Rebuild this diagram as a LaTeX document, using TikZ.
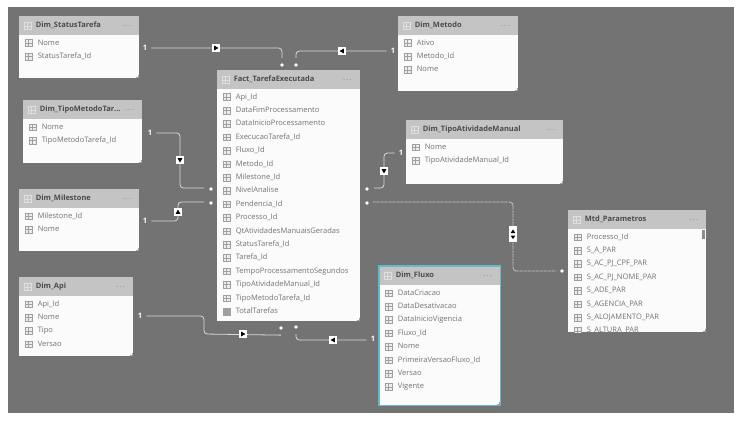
\documentclass[tikz,border=0pt]{standalone}
\usepackage{fontspec}
\setmainfont{Open Sans}
\usetikzlibrary{arrows.meta,positioning,calc}

\definecolor{canvasgray}{HTML}{737373}
\definecolor{headgray}{HTML}{C4C4C4}
\definecolor{tablefill}{HTML}{FBFBFB}
\definecolor{rowtext}{HTML}{737373}
\definecolor{headtext}{HTML}{4A4A4A}
\definecolor{iconline}{HTML}{A0A0A0}
\definecolor{selcyan}{HTML}{62BACD}

% one table: name, x, y, width, height, title, fields
\newcommand{\dimtable}[7]{%
  \node[tablebox, minimum width=#4*0.75pt, minimum height=#5*0.75pt] (#1) at (#2,#3) {};
  \node[headbox, minimum width=#4*0.75pt] (#1head) at (#1.north west) {};
  \node[gridicon, draw=white!45!headgray, fill=headgray] (#1headicon) at ($(#1head.west)+(9,0)$) {};
  \draw[white!45!headgray, line width=0.25pt] (#1headicon.west) -- (#1headicon.east)
    ($(#1headicon.north west)!0.35!(#1headicon.north east)$) -- ($(#1headicon.south west)!0.35!(#1headicon.south east)$);
  \node[headtitle] (#1title) at ($(#1head.west)+(16.5,0)$) {#6};
  \node[headdots] (#1dots) at ($(#1head.east)+(-13,0)$) {.\,.\,.};
  \coordinate (#1rows) at ($(#1head.south west)+(10,7.5)$);
  \foreach \fname [count=\k from 0] in {#7} {
    \node[gridicon] (#1icon\k) at ($(#1rows)+(0,\k*13.4)$) {};
    \draw[iconline, line width=0.25pt] (#1icon\k.west) -- (#1icon\k.east)
      ($(#1icon\k.north west)!0.35!(#1icon\k.north east)$) -- ($(#1icon\k.south west)!0.35!(#1icon\k.south east)$);
    \node[fieldtext] (#1field\k) at ($(#1rows)+(8.5,\k*13.4)$) {\fname};
  }
  \draw[iconline, line width=0.3pt] ($(#1.south east)+(-1,-4)$) -- ($(#1.south east)+(-1,-1)$) -- ($(#1.south east)+(-4,-1)$);
}

\begin{document}
\begin{tikzpicture}[
    x=0.75pt, y=-0.75pt,
    tablebox/.style={anchor=north west, fill=tablefill, inner sep=0pt},
    headbox/.style={anchor=north west, fill=headgray, minimum height=14.25pt, inner sep=0pt},
    headtitle/.style={anchor=west, font=\fontsize{5.6}{6}\selectfont\bfseries, text=headtext, inner sep=0pt, text height=4.4pt, text depth=1.2pt},
    headdots/.style={font=\fontsize{5.6}{6}\selectfont\bfseries, text=black!38, inner sep=0pt},
    gridicon/.style={draw=iconline, fill=black!7, line width=0.3pt, minimum width=5.2pt, minimum height=5pt, inner sep=0pt},
    fieldtext/.style={anchor=west, font=\fontsize{5.65}{6}\selectfont, text=rowtext, inner sep=0pt, text height=4.4pt, text depth=1.2pt},
    lnk/.style={draw=black!15, line width=0.6pt, rounded corners=2.5pt},
    lnkdot/.style={lnk, dash pattern=on 0.7pt off 0.5pt, line width=0.7pt},
    one/.style={font=\fontsize{5.6}{6}\selectfont\bfseries, text=white, inner sep=0pt},
    many/.style={circle, fill=white, minimum size=2.8pt, inner sep=0pt},
    dirbox/.style={fill=white, minimum size=5.4pt, inner sep=0pt}
]
\useasboundingbox (0,0) rectangle (746,428);
\fill[canvasgray] (8,7) rectangle (734,413);

\dimtable{status}{19}{16}{120}{62}{Dim\_StatusTarefa}{Nome,StatusTarefa\_Id}
\dimtable{tipomet}{23}{100}{119}{63}{Dim\_TipoMetodoTar...}{Nome,TipoMetodoTarefa\_Id}
\dimtable{miles}{19}{189}{120}{62}{Dim\_Milestone}{Milestone\_Id,Nome}
\dimtable{api}{19}{277}{114}{79}{Dim\_Api}{Api\_Id,Nome,Tipo,Versao}
\dimtable{fact}{217}{70}{143}{251}{Fact\_TarefaExecutada}{Api\_Id,DataFimProcessamento,DataInicioProcessamento,ExecucaoTarefa\_Id,Fluxo\_Id,Metodo\_Id,Milestone\_Id,NivelAnalise,Pendencia\_Id,Processo\_Id,QtAtividadesManuaisGeradas,StatusTarefa\_Id,Tarefa\_Id,TempoProcessamentoSegundos,TipoAtividadeManual\_Id,TipoMetodoTarefa\_Id,TotalTarefas}
\dimtable{metodo}{398}{16}{120}{75}{Dim\_Metodo}{Ativo,Metodo\_Id,Nome}
\dimtable{tipoativ}{406}{120}{157}{64}{Dim\_TipoAtividadeManual}{Nome,TipoAtividadeManual\_Id}
\dimtable{fluxo}{379}{266}{121}{139}{Dim\_Fluxo}{DataCriacao,DataDesativacao,DataInicioVigencia,Fluxo\_Id,Nome,PrimeiraVersaoFluxo\_Id,Versao,Vigente}
\dimtable{mtd}{568}{210}{138}{122}{Mtd\_Parametros}{Processo\_Id,S\_A\_PAR,S\_AC\_PJ\_CPF\_PAR,S\_AC\_PJ\_NOME\_PAR,S\_ADE\_PAR,S\_AGENCIA\_PAR,S\_ALOJAMENTO\_PAR,S\_ALTURA\_PAR}

% selected table, calculated field, cut-off list
\draw[selcyan, line width=0.9pt] (fluxo.north west) rectangle (fluxo.south east);
\node[gridicon, fill=iconline, minimum width=4.2pt] (facttotal) at (facticon16) {};
\fill[canvasgray] (mtd.south west) rectangle ($(mtd.south east)+(0,6)$);
\fill[black!45] ($(mtd.north east)+(-5,20)$) rectangle ($(mtd.north east)+(-2,29)$);

% end marks of the relationships
\node[one] (onestatus) at (145,48) {1};
\node[one] (onemetodo) at (393,51) {1};
\node[one] (onetipomet) at (150,133) {1};
\node[one] (onemiles) at (145,221) {1};
\node[one] (oneapi) at (140,316) {1};
\node[one] (onefluxo) at (373,339) {1};
\node[one] (onetipoativ) at (401,153) {1};

\node[many] (mstatus) at (282,65) {};
\node[many] (mmetodo) at (296,65) {};
\node[many] (mtipomet) at (211,189) {};
\node[many] (mmiles) at (211,203) {};
\node[many] (mapi) at (281,328) {};
\node[many] (mfluxo) at (296,327) {};
\node[many] (mtipoativ) at (367,189) {};
\node[many] (mproc) at (367,203) {};
\node[many] (mmtd) at (562,271) {};

\draw[lnk] (onestatus.east) ++(4,0) -| ($(mstatus.north)+(0,-5)$);
\draw[lnk] (onemetodo.west) ++(-4,0) -| ($(mmetodo.north)+(0,-5)$);
\draw[lnk] (onetipomet.east) ++(4,0) -| (180,188) -- ($(mtipomet.west)+(-5,-1)$);
\draw[lnk] (onemiles.east) ++(4,0) -| (178,202) -- ($(mmiles.west)+(-5,-1)$);
\draw[lnk] (oneapi.east) ++(4,0) -| (204,334) -- ($(mapi.south)+(0,5)$);
\draw[lnk] (onefluxo.west) ++(-4,1) -| ($(mfluxo.south)+(0,5)$);
\draw[lnk] (onetipoativ.west) ++(-4,0) -| (384,188) -- ($(mtipoativ.east)+(5,-1)$);
\draw[lnkdot] ($(mproc.east)+(4,-1)$) -| (513,271) -- ($(mmtd.west)+(-4,0)$);

% direction boxes
\foreach \bname/\bx/\by/\bangle in {bstatus/216/48/0, bmetodo/342/51/180, btipomet/180/160/-90, bmiles/178/212/90, bapi/243/334/0, bfluxo/333/340/180, btipoativ/384/171/-90} {
  \node[dirbox] (\bname) at (\bx,\by) {};
  \fill[black, rotate around={\bangle:(\bname.center)}] ($(\bname.center)+(-1.8,-2.4)$) -- ($(\bname.center)+(2.4,0)$) -- ($(\bname.center)+(-1.8,2.4)$) -- cycle;
}
\node[dirbox, minimum height=12pt] (bproc) at (513,234) {};
\fill[black] (510.6,233) -- (515.4,233) -- (513,229.5) -- cycle;
\fill[black] (510.6,235.5) -- (515.4,235.5) -- (513,239) -- cycle;
\end{tikzpicture}
\end{document}
